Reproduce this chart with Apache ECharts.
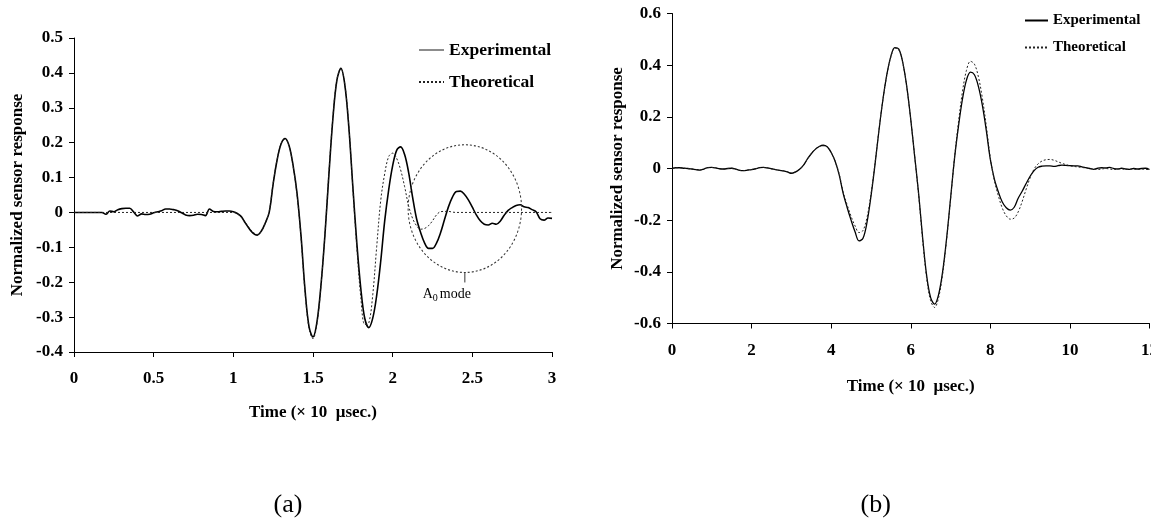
<!DOCTYPE html>
<html>
<head>
<meta charset="utf-8">
<title>Normalized sensor response</title>
<script src="https://cdn.jsdelivr.net/npm/echarts@6/dist/echarts.min.js"></script>
<style>
  html, body { margin: 0; padding: 0; background: #fff; }
  #chart { width: 1161px; height: 523px; }
</style>
</head>
<body>
<div id="chart"></div>
<script>
// Sample times (x 10 usec) for panel (a)
const timeA = [
  0,0.025,0.05,0.075,0.1,0.125,0.15,0.175,0.2,0.225,
  0.25,0.275,0.3,0.325,0.35,0.375,0.4,0.425,0.45,0.475,
  0.5,0.525,0.55,0.575,0.6,0.625,0.65,0.675,0.7,0.725,
  0.75,0.775,0.8,0.825,0.85,0.875,0.9,0.925,0.95,0.975,
  1,1.025,1.05,1.075,1.1,1.125,1.15,1.175,1.2,1.225,
  1.25,1.275,1.3,1.325,1.35,1.375,1.4,1.425,1.45,1.475,
  1.5,1.525,1.55,1.575,1.6,1.625,1.65,1.675,1.7,1.725,
  1.75,1.775,1.8,1.825,1.85,1.875,1.9,1.925,1.95,1.975,
  2,2.025,2.05,2.075,2.1,2.125,2.15,2.175,2.2,2.225,
  2.25,2.275,2.3,2.325,2.35,2.375,2.4,2.425,2.45,2.475,
  2.5,2.525,2.55,2.575,2.6,2.625,2.65,2.675,2.7,2.725,
  2.75,2.775,2.8,2.825,2.85,2.875,2.9,2.925,2.95,2.975,
  3
];

// Panel (a): measured response
const experimentalA = [
  0,0,0,0,0,0,0,0,-0.005,0.004,
  0.002,0.008,0.011,0.012,0.012,0.001,-0.010,-0.004,-0.006,-0.005,
  -0.001,0.002,0.005,0.010,0.010,0.008,0.005,-0.001,-0.007,-0.009,
  -0.008,-0.005,-0.006,-0.009,0.010,0.003,0.002,0.003,0.004,0.004,
  0.002,-0.003,-0.012,-0.030,-0.047,-0.060,-0.065,-0.054,-0.031,0.000,
  0.082,0.151,0.197,0.212,0.191,0.135,0.054,-0.068,-0.222,-0.327,
  -0.357,-0.314,-0.209,-0.064,0.110,0.270,0.379,0.413,0.365,0.244,
  0.074,-0.088,-0.218,-0.304,-0.330,-0.303,-0.237,-0.140,-0.024,0.065,
  0.134,0.178,0.188,0.166,0.115,0.044,-0.018,-0.057,-0.087,-0.103,
  -0.103,-0.088,-0.059,-0.021,0.016,0.044,0.060,0.061,0.052,0.036,
  0.015,-0.007,-0.024,-0.034,-0.036,-0.031,-0.034,-0.025,-0.008,0.006,
  0.014,0.020,0.022,0.016,0.014,0.008,0.002,-0.018,-0.022,-0.016,
  -0.017
];

// Panel (a): predicted response
const theoreticalA = [
  0,0,0,0,0,0,0,0,0,0,
  0,0,0,0,0,0,0,0,0,0,
  0,0,0,0,0,0,0,0,0,0,
  0,0,0,0,0,0,0,0,0,0,
  0.000,-0.004,-0.014,-0.028,-0.044,-0.057,-0.063,-0.055,-0.030,0.002,
  0.084,0.152,0.198,0.210,0.190,0.133,0.050,-0.074,-0.228,-0.332,
  -0.362,-0.318,-0.210,-0.062,0.115,0.274,0.381,0.412,0.366,0.246,
  0.070,-0.100,-0.243,-0.321,-0.317,-0.236,-0.097,0.034,0.111,0.160,
  0.170,0.155,0.122,0.074,0.019,-0.017,-0.038,-0.048,-0.046,-0.038,
  -0.024,-0.007,0.002,0.003,0.003,0.001,0,0,0,0,
  0,0,0,0,0,0,0,0,0,0,
  0,0,0,0,0,0,0,0,0,0,
  0
];

// Sample times (x 10 usec) for panel (b)
const timeB = [
  0,0.1,0.2,0.3,0.4,0.5,0.6,0.7,0.8,0.9,
  1,1.1,1.2,1.3,1.4,1.5,1.6,1.7,1.8,1.9,
  2,2.1,2.2,2.3,2.4,2.5,2.6,2.7,2.8,2.9,
  3,3.1,3.2,3.3,3.4,3.5,3.6,3.7,3.8,3.9,
  4,4.1,4.2,4.3,4.4,4.5,4.6,4.7,4.8,4.9,
  5,5.1,5.2,5.3,5.4,5.5,5.6,5.7,5.8,5.9,
  6,6.1,6.2,6.3,6.4,6.5,6.6,6.7,6.8,6.9,
  7,7.1,7.2,7.3,7.4,7.5,7.6,7.7,7.8,7.9,
  8,8.1,8.2,8.3,8.4,8.5,8.6,8.7,8.8,8.9,
  9,9.1,9.2,9.3,9.4,9.5,9.6,9.7,9.8,9.9,
  10,10.1,10.2,10.3,10.4,10.5,10.6,10.7,10.8,10.9,
  11,11.1,11.2,11.3,11.4,11.5,11.6,11.7,11.8,11.9,
  12
];

// Panel (b): measured response
const experimentalB = [
  0,0.003,0.003,0.001,0,-0.002,-0.004,-0.006,-0.002,0.003,
  0.004,0.002,-0.001,-0.002,0,0.001,-0.002,-0.007,-0.008,-0.006,
  -0.004,-0.001,0.003,0.004,0.002,-0.001,-0.004,-0.007,-0.009,-0.013,
  -0.019,-0.014,-0.004,0.012,0.036,0.057,0.074,0.085,0.090,0.084,
  0.062,0.028,-0.024,-0.095,-0.150,-0.200,-0.245,-0.280,-0.270,-0.209,
  -0.108,0.013,0.146,0.266,0.364,0.434,0.468,0.462,0.410,0.317,
  0.190,0.045,-0.100,-0.270,-0.415,-0.500,-0.525,-0.488,-0.401,-0.272,
  -0.117,0.039,0.164,0.269,0.342,0.373,0.363,0.318,0.244,0.146,
  0.035,-0.040,-0.090,-0.130,-0.152,-0.161,-0.150,-0.115,-0.088,-0.058,
  -0.030,-0.008,0.005,0.009,0.010,0.010,0.008,0.011,0.013,0.012,
  0.011,0.010,0.010,0.006,0.003,0,-0.003,0.001,0.003,0.002,
  0.004,0,-0.002,0.001,-0.002,-0.003,0,-0.002,0,0.001,
  -0.004
];

// Panel (b): predicted response
const theoreticalB = [
  0,0.003,0.003,0.001,0,-0.002,-0.004,-0.006,-0.002,0.003,
  0.004,0.002,-0.001,-0.002,0,0.001,-0.002,-0.007,-0.008,-0.006,
  -0.004,-0.001,0.003,0.004,0.002,-0.001,-0.004,-0.007,-0.009,-0.013,
  -0.017,-0.013,-0.003,0.010,0.036,0.058,0.075,0.085,0.088,0.083,
  0.062,0.028,-0.020,-0.090,-0.140,-0.185,-0.222,-0.248,-0.240,-0.190,
  -0.100,0.018,0.148,0.266,0.362,0.432,0.466,0.460,0.408,0.316,
  0.190,0.045,-0.105,-0.278,-0.425,-0.512,-0.538,-0.500,-0.410,-0.278,
  -0.120,0.042,0.180,0.298,0.380,0.415,0.404,0.355,0.272,0.163,
  0.040,-0.045,-0.105,-0.153,-0.183,-0.196,-0.192,-0.168,-0.128,-0.080,
  -0.036,-0.002,0.018,0.029,0.034,0.035,0.032,0.026,0.020,0.015,
  0.011,0.008,0.006,0.004,0.002,0,-0.002,-0.004,-0.002,0,
  -0.002,-0.004,-0.003,-0.001,-0.004,-0.003,-0.002,-0.004,-0.002,-0.003,
  -0.005
];

// Axis ranges and tick steps
const axisA = { xMin: 0, xMax: 3, xStep: 0.5, yMin: -0.4, yMax: 0.5, yStep: 0.1 };
const axisB = { xMin: 0, xMax: 12, xStep: 2, yMin: -0.6, yMax: 0.6, yStep: 0.2 };

const seriesNames = ['Experimental', 'Theoretical'];
const xTitle = 'Time (\u00d7 10  \u03bcsec.)';
const yTitle = 'Normalized sensor response';
const panelLabels = ['(a)', '(b)'];

// Region of panel (a) holding the A0 mode, in data units
const a0Center = [2.453, 0.011];
const a0Radius = [0.356, 0.183];

const FONT = '"Liberation Serif", "Times New Roman", serif';

function pairs(xs, ys) { return xs.map((x, i) => [x, ys[i]]); }

function makeXAxis(grid, ax, labelMargin, nameGap) {
  return {
    type: 'value', gridIndex: grid, min: ax.xMin, max: ax.xMax, interval: ax.xStep,
    name: xTitle, nameLocation: 'middle', nameGap: nameGap,
    nameTextStyle: { fontFamily: FONT, fontWeight: 'bold', fontSize: 17, color: '#000' },
    axisLine: { onZero: false, lineStyle: { color: '#000', width: 1 } },
    axisTick: { show: true, length: 5, inside: false, lineStyle: { color: '#000' } },
    axisLabel: { fontFamily: FONT, fontWeight: 'bold', fontSize: 17, color: '#000', margin: labelMargin },
    splitLine: { show: false }
  };
}

function makeYAxis(grid, ax, nameGap) {
  return {
    type: 'value', gridIndex: grid, min: ax.yMin, max: ax.yMax, interval: ax.yStep,
    name: yTitle, nameLocation: 'middle', nameGap: nameGap,
    nameTextStyle: { fontFamily: FONT, fontWeight: 'bold', fontSize: 17, color: '#000' },
    axisLine: { show: true, lineStyle: { color: '#000', width: 1 } },
    axisTick: { show: true, length: 5, inside: false, lineStyle: { color: '#000' } },
    axisLabel: { fontFamily: FONT, fontWeight: 'bold', fontSize: 17, color: '#000', margin: 11 },
    splitLine: { show: false }
  };
}

function lineSeries(name, grid, data, solidWidth) {
  const dotted = name === seriesNames[1];
  const colour = dotted ? '#222' : '#000';
  return {
    name: name, type: 'line', xAxisIndex: grid, yAxisIndex: grid,
    data: data, showSymbol: false, symbol: 'none', smooth: 0.35,
    animation: false,
    color: colour,
    itemStyle: { color: colour },
    lineStyle: dotted
      ? { color: colour, width: 1, type: [2, 2] }
      : { color: colour, width: solidWidth },
    z: dotted ? 3 : 2
  };
}

const legendBase = {
  orient: 'vertical', selectedMode: false, padding: 0,
  itemStyle: { opacity: 0 }
};

const chart = echarts.init(document.getElementById('chart'), null, { renderer: 'canvas' });

chart.setOption({
  backgroundColor: '#fff',
  animation: false,
  textStyle: { fontFamily: FONT },
  grid: [
    { left: 74, top: 38, width: 478, height: 314 },
    { left: 672, top: 13.5, width: 483, height: 310 }
  ],
  xAxis: [makeXAxis(0, axisA, 18, 52), makeXAxis(1, axisB, 19, 55)],
  yAxis: [makeYAxis(0, axisA, 48), makeYAxis(1, axisB, 46)],
  legend: [
    Object.assign({}, legendBase, {
      left: 418, top: 40, itemWidth: 25, itemHeight: 14, itemGap: 12,
      textStyle: { fontFamily: FONT, fontWeight: 'bold', fontSize: 17.5, color: '#000', lineHeight: 20 },
      data: [
        { name: seriesNames[0], lineStyle: { color: '#666', width: 1.5 } },
        { name: seriesNames[1] }
      ]
    }),
    Object.assign({}, legendBase, {
      left: 1024, top: 12, itemWidth: 23, itemHeight: 12, itemGap: 10,
      textStyle: { fontFamily: FONT, fontWeight: 'bold', fontSize: 15, color: '#000', lineHeight: 17 },
      data: [seriesNames[0], seriesNames[1]]
    })
  ],
  series: [
    lineSeries(seriesNames[0], 0, pairs(timeA, experimentalA), 1.6),
    lineSeries(seriesNames[1], 0, pairs(timeA, theoreticalA), 1),
    lineSeries(seriesNames[0], 1, pairs(timeB, experimentalB), 1.3),
    lineSeries(seriesNames[1], 1, pairs(timeB, theoreticalB), 1)
  ]
});

// Annotation ring around the A0 mode, placed through the axis scales
const c = chart.convertToPixel({ gridIndex: 0 }, a0Center);
const edge = chart.convertToPixel({ gridIndex: 0 }, [a0Center[0] + a0Radius[0], a0Center[1] - a0Radius[1]]);
const rx = edge[0] - c[0];
const ry = edge[1] - c[1];
const bottom = c[1] + ry;

const gridA = chart.getModel().getComponent('grid', 0).coordinateSystem.getRect();
const gridB = chart.getModel().getComponent('grid', 1).coordinateSystem.getRect();

chart.setOption({
  graphic: [
    {
      type: 'circle', x: c[0], y: c[1], scaleY: ry / rx, silent: true, z: 10,
      shape: { cx: 0, cy: 0, r: rx },
      style: { fill: 'none', stroke: '#333', lineWidth: 1, lineDash: [2, 2] }
    },
    {
      type: 'line', silent: true, z: 10,
      shape: { x1: c[0], y1: bottom, x2: c[0], y2: bottom + 10 },
      style: { stroke: '#333', lineWidth: 1 }
    },
    {
      type: 'text', x: c[0] - 42, y: bottom + 22, silent: true, z: 10,
      style: { text: 'A', font: '14px ' + FONT, fill: '#000', align: 'left', verticalAlign: 'middle' }
    },
    {
      type: 'text', x: c[0] - 32, y: bottom + 26, silent: true, z: 10,
      style: { text: '0', font: '10px ' + FONT, fill: '#000', align: 'left', verticalAlign: 'middle' }
    },
    {
      type: 'text', x: c[0] - 25, y: bottom + 22, silent: true, z: 10,
      style: { text: 'mode', font: '14px ' + FONT, fill: '#000', align: 'left', verticalAlign: 'middle' }
    },
    {
      type: 'text', x: gridA.x + gridA.width / 2 - 25, y: 505, silent: true,
      style: { text: panelLabels[0], font: '26px ' + FONT, fill: '#000', align: 'center', verticalAlign: 'middle' }
    },
    {
      type: 'text', x: gridB.x + gridB.width / 2 - 35, y: 505, silent: true,
      style: { text: panelLabels[1], font: '26px ' + FONT, fill: '#000', align: 'center', verticalAlign: 'middle' }
    },
    {
      // page edge trims the last tick label of panel (b)
      type: 'rect', x: 1151, y: 0, silent: true, z: 100,
      shape: { width: 20, height: 523 },
      style: { fill: '#fff' }
    }
  ]
});
</script>
</body>
</html>
